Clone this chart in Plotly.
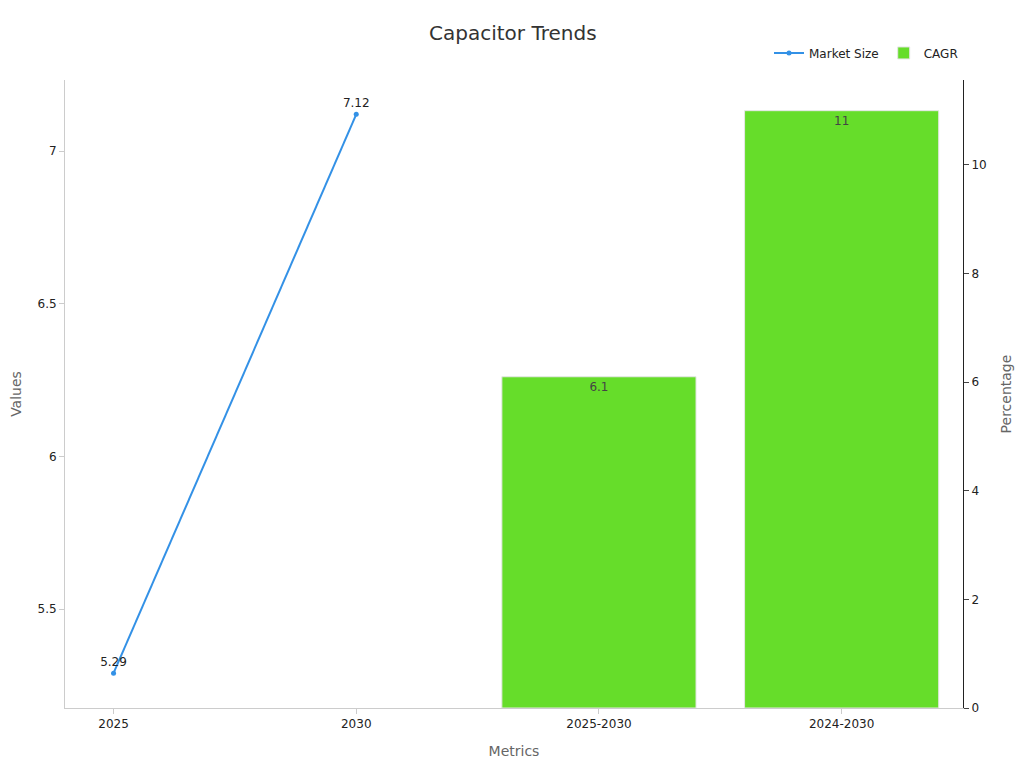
import plotly.graph_objects as go

categories = ["2025", "2030", "2025-2030", "2024-2030"]
line_x = ["2025", "2030"]
market_size = [5.29, 7.12]
bar_x = ["2025-2030", "2024-2030"]
cagr = [6.1, 11]

fig = go.Figure()
fig.add_trace(go.Scatter(x=line_x, y=market_size, mode="lines+markers+text", name="Market Size",
                         text=[str(v) for v in market_size], textposition="top center",
                         line=dict(color="#3391e6", width=2), marker=dict(size=5),
                         textfont=dict(size=12, color="#222")))
fig.add_trace(go.Bar(x=bar_x, y=cagr, name="CAGR", yaxis="y2", marker_color="#66dd2a",
                     marker_line=dict(color="#e6e6e6", width=1), width=0.8,
                     text=[str(v) for v in cagr], textposition="inside", insidetextanchor="end",
                     textfont=dict(size=12, color="#444")))
fig.update_layout(
    width=1024, height=768, template="simple_white",
    font=dict(family="DejaVu Sans", size=12, color="#222"),
    title=dict(text="Capacitor Trends", x=0.493, y=0.977, xanchor="center", font=dict(size=20, color="#333")),
    margin=dict(l=57, r=69, t=72, b=68),
    xaxis=dict(categoryorder="array", categoryarray=categories, title=dict(text="Metrics", font=dict(color="#666", size=14)),
               linecolor="#ccc", ticks="outside", tickcolor="#ccc", range=[-0.2, 3.5]),
    yaxis=dict(title=dict(text="Values", font=dict(color="#666", size=14), standoff=12), range=[5.176, 7.2325],
               automargin=False,
               tickvals=[5.5, 6, 6.5, 7], ticktext=["5.5", "6", "6.5", "7"], linecolor="#ccc", tickcolor="#ccc"),
    yaxis2=dict(title=dict(text="Percentage", font=dict(color="#666", size=14)), overlaying="y", side="right",
                range=[0, 11.565], tickvals=[0, 2, 4, 6, 8, 10], linecolor="#222", ticks="outside"),
    legend=dict(orientation="h", x=1, xanchor="right", y=1.02, yanchor="bottom", font=dict(size=12)),
    showlegend=True,
)
fig.write_html("out.html")
